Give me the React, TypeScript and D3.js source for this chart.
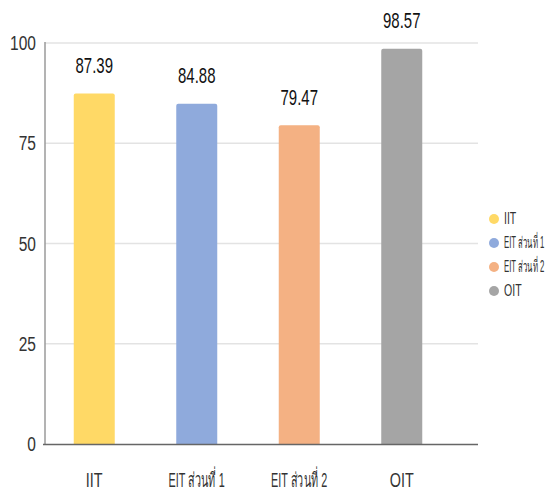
import React, { useLayoutEffect, useRef, useState } from "react";
import * as d3 from "d3";

const categories = ["IIT", "EIT ส่วนที่ 1", "EIT ส่วนที่ 2", "OIT"];
const values = [87.39, 84.88, 79.47, 98.57];
const colors = ["#FFD966", "#8FAADC", "#F4B183", "#A5A5A5"];
const yTicks = [0, 25, 50, 75, 100];

const W = 551;
const H = 495;
const FONT = "'Liberation Sans Narrow', 'Liberation Sans', 'DejaVu Sans', sans-serif";
const isThai = (s: string) => /[\u0E00-\u0E7F]/.test(s);

function SText({ x, y, size, sx = 0.7, anchor = "middle", fill = "#222", len, children }: any) {
  const ref = useRef<SVGTextElement>(null);
  const [scale, setScale] = useState(sx);
  useLayoutEffect(() => {
    if (len && ref.current) {
      const w = ref.current.getComputedTextLength();
      if (w > 0) setScale(len / w);
    }
  }, [len, children, size]);
  return (
    <text
      ref={ref}
      transform={`translate(${x},${y}) scale(${scale},1)`}
      fontSize={size}
      fontFamily={FONT}
      textAnchor={anchor}
      fill={fill}
    >
      {children}
    </text>
  );
}

export default function App() {
  const x = d3.scaleBand<string>().domain(categories).range([43, 453]).paddingInner(0.6).paddingOuter(0.3);
  const y = d3.scaleLinear().domain([0, 100]).range([444, 43]);
  const gridRight = 478;
  const axisX = 45;

  return (
    <svg width={W} height={H} style={{ position: "absolute", left: 0, top: 0, background: "#fff" }}>
      {yTicks.map((t) => (
        <g key={t}>
          {t !== 0 && (
            <line x1={axisX} x2={gridRight} y1={y(t)} y2={y(t)} stroke="#e3e3e3" strokeWidth={1.5} />
          )}
          <SText x={36} y={y(t) + 7} size={21} sx={0.74} anchor="end" fill="#333">
            {t}
          </SText>
        </g>
      ))}
      {categories.map((c, i) => {
        const bx = x(c)!;
        const bw = x.bandwidth();
        const top = y(values[i]);
        return (
          <g key={c}>
            <path
              d={`M${bx},${y(0)} L${bx},${top + 2} Q${bx},${top} ${bx + 2},${top} L${bx + bw - 2},${top} Q${bx + bw},${top} ${bx + bw},${top + 2} L${bx + bw},${y(0)} Z`}
              fill={colors[i]}
            />
            <SText x={bx + bw / 2} y={top - 20.5} size={22} sx={0.68} fill="#111">
              {values[i].toFixed(2)}
            </SText>
            <SText x={bx + bw / 2} y={487} size={20} sx={0.72} fill="#333" len={isThai(c) ? 56 : undefined}>
              {c}
            </SText>
          </g>
        );
      })}
      <line x1={axisX} x2={axisX} y1={y(100) - 1} y2={y(0)} stroke="#9a9a9a" strokeWidth={1.5} />
      <line x1={axisX - 2} x2={gridRight} y1={y(0) + 0.5} y2={y(0) + 0.5} stroke="#666" strokeWidth={1.6} />
      {categories.map((c, i) => (
        <g key={"lg" + c}>
          <circle cx={494} cy={219 + i * 24} r={5} fill={colors[i]} />
          <SText x={504} y={224 + i * 24} size={16} sx={0.66} anchor="start" fill="#333" len={isThai(c) ? 40 : undefined}>
            {c}
          </SText>
        </g>
      ))}
    </svg>
  );
}
